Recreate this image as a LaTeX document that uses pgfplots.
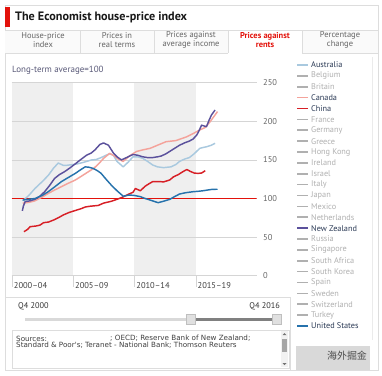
\documentclass[border=0pt]{standalone}
\usepackage{fontspec}
\setmainfont{PT Sans}
\newfontfamily\dejavu{DejaVu Sans}
\newfontfamily\cjk{Noto Sans CJK SC}
\usepackage{pgfplots}
\pgfplotsset{compat=1.18}
\definecolor{aus}{HTML}{A9C9DF}
\definecolor{can}{HTML}{F4A39B}
\definecolor{chn}{HTML}{D71F26}
\definecolor{nzl}{HTML}{5B519C}
\definecolor{usa}{HTML}{2672AC}
\definecolor{ered}{HTML}{E3120B}
\definecolor{band}{HTML}{EFEFEF}
\definecolor{gridc}{HTML}{D5D5D5}
\definecolor{lbl}{HTML}{555555}
\definecolor{legoff}{HTML}{B0B0B0}
\definecolor{legon}{HTML}{2B3A55}
\definecolor{frame}{HTML}{DDDDDD}
\begin{document}
\begin{tikzpicture}
\begin{scope}[x=1bp,y=-1bp]
\fill[white] (0,0) rectangle (382,376);
\draw[frame] (5,5) rectangle (378,370);
% title
\fill[ered] (5,7) rectangle (10,27);
\node[anchor=west, inner sep=0, font=\bfseries\fontsize{12.2}{14}\selectfont, text=black!90] at (15,17.5) {The Economist house-price index};
% tabs
\fill[black!2] (5,30) rectangle (228,53);
\fill[black!2] (302,30) rectangle (378,53);
\draw[frame] (5,30) -- (378,30);
\draw[frame] (80,30) -- (80,53);
\draw[frame] (154,30) -- (154,53);
\draw[frame] (228,30) -- (228,53);
\draw[frame] (302,30) -- (302,53);
\draw[frame] (5,53) -- (228,53);
\draw[frame] (302,53) -- (378,53);
\begin{scope}[every node/.style={align=center, font=\fontsize{8.5}{9}\selectfont, text=black!60, inner sep=0}]
\node at (43,40) {House-price\\index};
\node at (117,40) {Prices in\\real terms};
\node at (191,40) {Prices against\\average income};
\node[text=ered, font=\bfseries\fontsize{8.5}{9}\selectfont] at (265,40) {Prices against\\rents};
\node at (340,40) {Percentage\\change};
\end{scope}
\node[anchor=west, inner sep=0, font=\fontsize{9}{10}\selectfont, text=black!60!blue!30!gray] at (12,70) {Long-term average=100};
% shaded five-year bands
\fill[band] (11.7,82.7) rectangle (73.0,275.7);
\fill[band] (134.4,82.7) rectangle (195.75,275.7);
\end{scope}

\begin{axis}[
  at={(11.7bp,-275.7bp)}, anchor=south west,
  scale only axis, width=245bp, height=193bp,
  xmin=2000, xmax=2020, ymin=0, ymax=250,
  axis line style={draw=none},
  xtick={2000,2005,2010,2015},
  xticklabels={2000–04,2005–09,2010–14,2015–19},
  xtick style={draw=none},
  xticklabel style={anchor=west, yshift=-10bp, xshift=1bp, inner sep=1bp, font=\fontsize{8.5}{10}\selectfont, text=black!75},
  ytick={0,50,100,150,200,250},
  ytick style={draw=none},
  ymajorgrids, grid style={gridc, line width=0.8bp},
  yticklabel pos=right,
  yticklabel style={anchor=west, xshift=3bp, font=\fontsize{8.5}{10}\selectfont, text=black!60},
  /pgf/number format/assume math mode=true,
  every axis plot/.append style={line width=1.45bp, line join=round},
]
\addplot[ered, line width=1.3bp] coordinates {(2000,100)(2020,100)};
% Australia
\addplot[aus] coordinates {(2000.9,97)(2001.4,104)(2001.9,113)(2002.5,122)(2002.99,130)(2003.4,139)(2003.8,146)(2004.2,143)(2004.5,143)(2005.0,144)(2005.4,145)(2005.9,147)(2006.5,149.9)(2006.9,150.5)(2007.3,153)(2007.7,156)(2008.0,158)(2008.3,156)(2008.6,148)(2009.1,141)(2009.5,147)(2009.9,154)(2010.3,154)(2010.7,152)(2011.1,148)(2011.5,143.5)(2011.9,141)(2012.4,140)(2013.0,141)(2013.4,144)(2013.7,148)(2014.1,151)(2014.5,153)(2014.9,158)(2015.35,165)(2015.6,166)(2015.9,167)(2016.3,169)(2016.6,171.5)};
% Canada
\addplot[can] coordinates {(2000.9,94)(2001.4,95)(2001.9,97)(2002.5,102)(2003.0,106.7)(2003.5,111)(2004.07,115.4)(2004.6,119.6)(2005.2,124)(2005.7,129)(2006.25,134.6)(2006.7,139)(2007.1,145)(2007.5,152)(2008.0,158.5)(2008.4,155)(2008.7,151)(2009.1,148)(2009.6,155)(2010.2,161)(2010.7,163)(2011.3,165)(2011.9,169)(2012.6,173.6)(2013.4,175)(2014.3,180)(2014.8,184)(2015.35,188.8)(2015.8,192)(2016.2,199.6)(2016.5,206)(2016.8,212.6)};
% China
\addplot[chn] coordinates {(2001.0,57)(2001.3,60)(2001.5,63.5)(2002.0,64.4)(2002.3,65.5)(2002.6,68.7)(2003.0,69.5)(2003.4,72)(2003.8,75)(2004.2,78.6)(2004.7,82)(2005.3,85)(2005.7,87)(2006.0,89)(2006.4,90)(2007.06,91)(2007.5,94)(2008.15,96.5)(2008.6,99)(2009.1,102)(2009.6,106)(2009.9,108)(2010.1,113)(2010.5,110)(2010.9,116)(2011.2,119)(2011.5,121.8)(2012.0,122)(2012.4,121.5)(2012.9,124)(2013.2,128)(2013.6,131)(2014.0,135)(2014.3,137.5)(2014.6,135)(2014.9,133)(2015.2,132.5)(2015.5,133)(2015.8,136)};
% New Zealand
\addplot[nzl] coordinates {(2000.87,84)(2000.95,90)(2001.1,96)(2001.5,97)(2001.9,99)(2002.3,103)(2002.7,109)(2003.1,117)(2003.5,126)(2003.9,131)(2004.3,134.6)(2004.7,139)(2005.2,145)(2005.6,150)(2006.1,156)(2006.5,159)(2006.8,163)(2007.2,170)(2007.5,172)(2007.9,169)(2008.3,159)(2008.6,154)(2008.96,150)(2009.37,153)(2009.9,157)(2010.3,156)(2010.7,154)(2011.1,153)(2011.5,153)(2011.9,154)(2012.2,155)(2012.6,158)(2012.9,161)(2013.3,165)(2013.7,169)(2014.1,172)(2014.5,174.4)(2014.8,177)(2015.1,182)(2015.3,188)(2015.5,195)(2015.7,194)(2015.9,193)(2016.1,201)(2016.3,208)(2016.6,214.6)};
% United States
\addplot[usa] coordinates {(2000.9,98)(2001.4,99)(2001.9,100)(2002.5,104)(2003.0,109)(2003.5,115)(2004.07,122)(2004.6,127)(2005.2,132.6)(2005.6,137)(2006.0,141)(2006.3,140.5)(2006.65,139)(2007.0,136)(2007.3,132.6)(2007.7,125)(2008.15,117)(2008.6,110)(2009.1,103)(2009.6,104.5)(2010.0,104)(2010.5,102.4)(2010.9,100)(2011.3,98)(2011.95,94.6)(2012.4,96.5)(2012.9,98.9)(2013.3,102.5)(2013.7,105.8)(2014.2,107.5)(2014.8,108.8)(2015.2,109.3)(2015.6,110)(2016.0,111)(2016.4,111.9)(2016.8,112)};
\end{axis}

\begin{scope}[x=1bp,y=-1bp]
% x tick marks
\foreach \xx in {11.7,73.0,134.4,195.75} \draw[gridc] (\xx,275.7) -- (\xx,287);
% legend
\draw[black!8] (372,57) -- (372,340);
\foreach \name/\col/\tcol [count=\i from 0] in {Australia/aus/legon, Belgium/legoff/legoff, Britain/legoff/legoff, Canada/can/legon, China/chn/legon, France/legoff/legoff, Germany/legoff/legoff, Greece/legoff/legoff, Hong Kong/legoff/legoff, Ireland/legoff/legoff, Israel/legoff/legoff, Italy/legoff/legoff, Japan/legoff/legoff, Mexico/legoff/legoff, Netherlands/legoff/legoff, New Zealand/nzl/legon, Russia/legoff/legoff, Singapore/legoff/legoff, South Africa/legoff/legoff, South Korea/legoff/legoff, Spain/legoff/legoff, Sweden/legoff/legoff, Switzerland/legoff/legoff, Turkey/legoff/legoff, United States/usa/legon} {
  \pgfmathsetmacro{\yy}{65+10.875*\i}
  \draw[\col, line width=1.6bp] (297,\yy) -- (308,\yy);
  \node[anchor=west, inner sep=0, font=\fontsize{8.3}{9}\selectfont, text=\tcol] at (311,\yy) {\name};
}
% slider panel
\draw[frame] (5,297) -- (290,297) -- (290,370);
\node[anchor=west, inner sep=0, font=\fontsize{8.3}{9}\selectfont, text=black!80] at (18,306.5) {Q4 2000};
\node[anchor=east, inner sep=0, font=\fontsize{8.3}{9}\selectfont, text=black!80] at (280,306.5) {Q4 2016};
\draw[black!15, line width=2.5bp] (25,319.5) -- (280,319.5);
\draw[black!50, line width=2.5bp] (190,319.5) -- (276,319.5);
\draw[black!25, fill=black!12] (186,314.5) rectangle (195,324.5);
\draw[black!25, fill=black!12] (272,314.5) rectangle (281,324.5);
% sources
\draw[frame] (12,330) rectangle (289,368);
\node[anchor=west, inner sep=0, font=\dejavu\fontsize{7.2}{8}\selectfont, text=black!75] at (16,338.5) {Sources:};
\node[anchor=west, inner sep=0, font=\dejavu\fontsize{7.2}{8}\selectfont, text=black!75] at (110,338.5) {; OECD; Reserve Bank of New Zealand;};
\node[anchor=west, inner sep=0, font=\dejavu\fontsize{7.2}{8}\selectfont, text=black!75] at (16,345.5) {Standard \& Poor's; Teranet - National Bank; Thomson Reuters};
\fill[black!5] (281,331) rectangle (288,367);
\fill[black!35] (282,339) rectangle (287,352);
\fill[black!55] (282.5,335) -- (286.5,335) -- (284.5,333) -- cycle;
\fill[black!55] (282.5,363) -- (286.5,363) -- (284.5,365) -- cycle;
% watermark
\fill[black!15] (296,346) rectangle (370,370);
\node[inner sep=0, font=\cjk\fontsize{10}{11}\selectfont, text=black!70] at (347,356) {海外掘金};
\end{scope}
\end{tikzpicture}
\end{document}
